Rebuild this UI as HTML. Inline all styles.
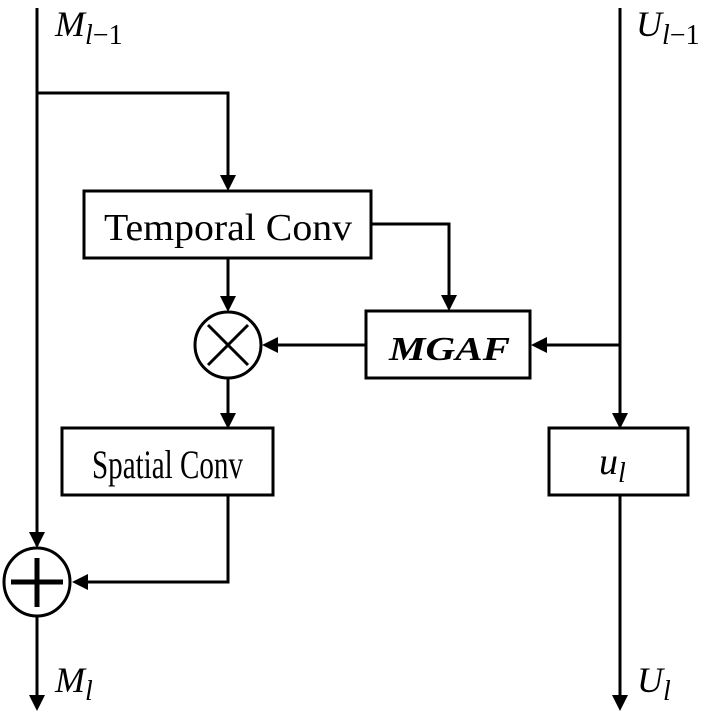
<!DOCTYPE html>
<html><head><style>body{margin:0;background:#fff}</style></head><body>
<svg width="709" height="715" xmlns="http://www.w3.org/2000/svg" font-family="Liberation Serif, serif">
<g stroke="#000" stroke-width="3" fill="none">
<line x1="37" y1="8" x2="37" y2="546"/>
<polyline points="37,93 228,93 228,175"/>
<line x1="228" y1="258" x2="228" y2="296"/>
<polyline points="371,224 449,224 449,295"/>
<line x1="366" y1="345" x2="278" y2="345"/>
<line x1="620" y1="8" x2="620" y2="413"/>
<line x1="620" y1="345" x2="547" y2="345"/>
<line x1="228" y1="378" x2="228" y2="413"/>
<polyline points="228,495 228,582 88,582"/>
<line x1="37" y1="616" x2="37" y2="695"/>
<line x1="620" y1="495" x2="620" y2="695"/>
<rect x="84" y="191" width="287" height="67" fill="#fff"/>
<rect x="366" y="311" width="164" height="67" fill="#fff"/>
<rect x="62" y="428" width="211" height="67" fill="#fff"/>
<rect x="549" y="428" width="139" height="67" fill="#fff"/>
<circle cx="228" cy="345" r="33" fill="#fff"/>
<line x1="208" y1="325" x2="248" y2="365"/><line x1="248" y1="325" x2="208" y2="365"/>
<ellipse cx="37" cy="582" rx="33" ry="34" fill="#fff"/>
</g>
<g stroke="#000" stroke-width="5"><line x1="11" y1="582" x2="63" y2="582"/><line x1="37" y1="558" x2="37" y2="607"/></g>
<g fill="#000">
<path d="M220,175 L236,175 L228,191 z"/>
<path d="M220,296 L236,296 L228,312 z"/>
<path d="M441,295 L457,295 L449,311 z"/>
<path d="M278,337 L278,353 L262,345 z"/>
<path d="M547,337 L547,353 L531,345 z"/>
<path d="M612,413 L628,413 L620,429 z"/>
<path d="M220,413 L236,413 L228,429 z"/>
<path d="M29,532 L45,532 L37,548 z"/>
<path d="M88,574 L88,590 L72,582 z"/>
<path d="M29,695 L45,695 L37,711 z"/>
<path d="M612,695 L628,695 L620,711 z"/>
</g>
<g font-size="38">
<text x="104" y="240" textLength="248" lengthAdjust="spacingAndGlyphs">Temporal Conv</text>
<text x="92" y="478" textLength="151" lengthAdjust="spacingAndGlyphs" font-size="40">Spatial Conv</text>
<text x="389" y="360" font-weight="bold" font-style="italic" font-size="34" textLength="121" lengthAdjust="spacingAndGlyphs">MGAF</text>
<text x="599" y="474" font-style="italic">u<tspan font-size="28" dy="8">l</tspan></text>
</g>
<g font-size="36" font-style="italic">
<text x="55" y="36">M<tspan font-size="28" dy="8">l</tspan><tspan font-size="28" font-style="normal">−1</tspan></text>
<text x="636" y="36">U<tspan font-size="28" dy="8">l</tspan><tspan font-size="28" font-style="normal">−1</tspan></text>
<text x="55" y="692">M<tspan font-size="28" dy="8">l</tspan></text>
<text x="637" y="692">U<tspan font-size="28" dy="8">l</tspan></text>
</g>
</svg>
</body></html>
